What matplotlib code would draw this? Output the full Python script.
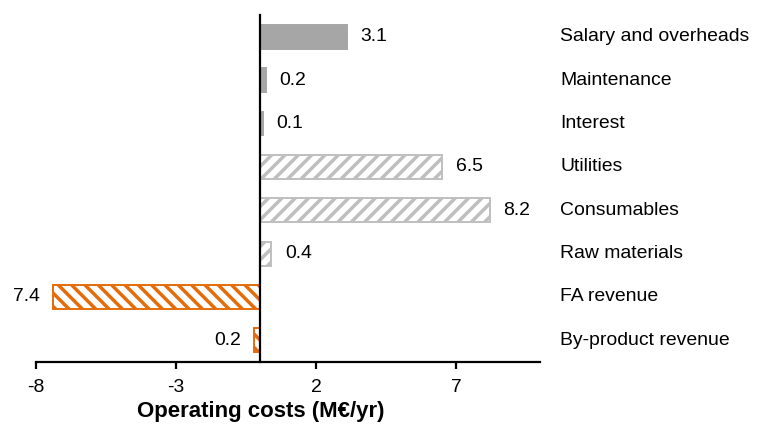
import matplotlib.pyplot as plt
import matplotlib.transforms as mtransforms

plt.rcParams['font.family'] = ['Liberation Sans', 'DejaVu Sans']

categories = ['Salary and overheads', 'Maintenance', 'Interest', 'Utilities',
              'Consumables', 'Raw materials', 'FA revenue', 'By-product revenue']
values = [3.1, 0.2, 0.1, 6.5, 8.2, 0.4, -7.4, -0.2]
labels = ['3.1', '0.2', '0.1', '6.5', '8.2', '0.4', '7.4', '0.2']
xticks = [-8, -3, 2, 7]

# dpi picked so the hatch spacing comes out like the original; sizes scaled back
DPI = 120
S = 100 / DPI

gray = '#a6a6a6'
lgray = '#bfbfbf'
orange = '#e46c0a'
styles = (
    [dict(facecolor=gray, edgecolor=gray, hatch=None)] * 3
    + [dict(facecolor='white', edgecolor=lgray, hatch='///')] * 3
    + [dict(facecolor='white', edgecolor=orange, hatch='\\\\\\')] * 2
)

plt.rcParams['hatch.linewidth'] = 2.5 * S
fig = plt.figure(figsize=(759 / DPI, 430 / DPI), dpi=DPI)
ax = fig.add_axes([0.0474, 0.158, 0.664, 0.807])

n = len(categories)
ypos = [n - 1 - i for i in range(n)]
for y, v, st in zip(ypos, values, styles):
    ax.barh(y, v, height=0.55, linewidth=1.4 * S, **st)

fs = 14 * S
for y, v, lab in zip(ypos, values, labels):
    if v >= 0:
        ax.annotate(lab, (v, y), xytext=(10 * S, 0), textcoords='offset points',
                    ha='left', va='center', fontsize=fs)
    else:
        ax.annotate(lab, (v, y), xytext=(-9.5 * S, 0), textcoords='offset points',
                    ha='right', va='center', fontsize=fs)

trans = mtransforms.blended_transform_factory(ax.transAxes, ax.transData)
for y, c in zip(ypos, categories):
    ax.text(1.04, y, c, transform=trans, ha='left', va='center', fontsize=fs)

ax.set_xlim(-8, 10)
ax.set_ylim(-0.5, n - 0.5)
ax.set_xticks(xticks)
ax.set_xticklabels([str(t) for t in xticks], fontsize=fs)
ax.set_yticks([])
ax.spines['top'].set_visible(False)
ax.spines['right'].set_visible(False)
ax.spines['left'].set_position(('data', 0))
ax.spines['left'].set_linewidth(1.6 * S)
ax.spines['bottom'].set_linewidth(1.6 * S)
ax.tick_params(axis='x', direction='out', length=5 * S, width=1.6 * S, pad=7 * S)
ax.set_xlabel('Operating costs (M€/yr)', fontsize=16 * S, fontweight='bold',
              labelpad=4 * S)
ax.xaxis.label.set_x(0.446)

fig.savefig('out.png', dpi=DPI)
